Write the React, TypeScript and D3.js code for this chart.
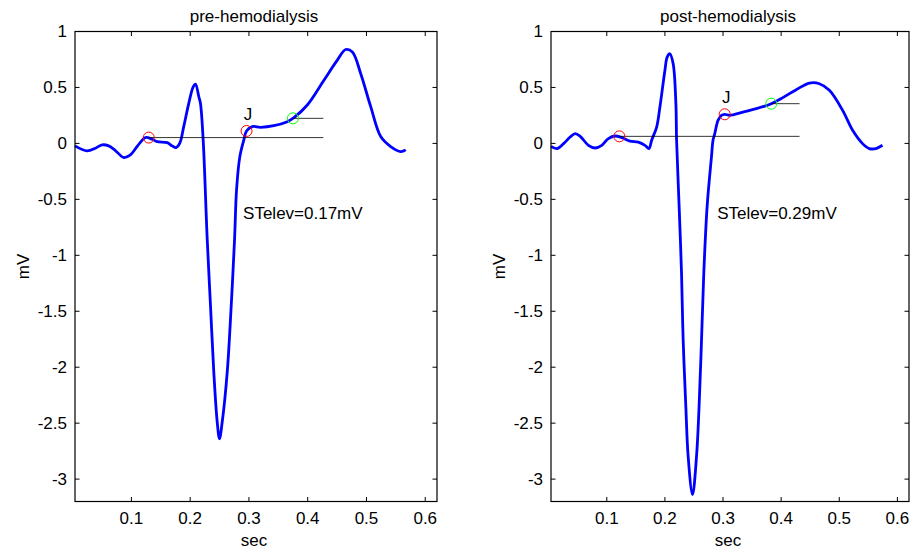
import React from "react";
import * as d3 from "d3";

// ---------- data ----------
const preT = [0.004, 0.0245, 0.0387, 0.05, 0.0613, 0.0727, 0.0869, 0.0983, 0.1097, 0.1238, 0.1353, 0.1438, 0.1608, 0.1693, 0.1761, 0.1823, 0.189, 0.1976, 0.2051, 0.209, 0.2147, 0.2175, 0.2221, 0.229, 0.2346, 0.2402, 0.246, 0.2499, 0.2545, 0.263, 0.2698, 0.2755, 0.2789, 0.2845, 0.2913, 0.2959, 0.3056, 0.3198, 0.3424, 0.3652, 0.3765, 0.3993, 0.4276, 0.4504, 0.4646, 0.476, 0.4901, 0.5072, 0.5242, 0.5412, 0.5583, 0.5668];
const preMV = [-0.022, -0.067, -0.043, -0.013, -0.022, -0.064, -0.126, -0.102, -0.028, 0.052, 0.037, 0.016, 0.007, -0.022, -0.037, 0.002, 0.15, 0.358, 0.506, 0.53, 0.417, 0.357, 0.031, -0.859, -1.453, -2.046, -2.49, -2.64, -2.49, -2.046, -1.453, -0.859, -0.414, -0.118, 0.031, 0.111, 0.15, 0.144, 0.158, 0.194, 0.23, 0.343, 0.565, 0.744, 0.839, 0.817, 0.625, 0.328, 0.061, -0.028, -0.073, -0.058];

const postT = [0.004, 0.0142, 0.0256, 0.037, 0.0456, 0.0542, 0.0684, 0.0799, 0.0914, 0.1027, 0.1142, 0.1257, 0.14, 0.1542, 0.1657, 0.1726, 0.1772, 0.1858, 0.1914, 0.2, 0.2039, 0.2086, 0.2142, 0.2189, 0.2201, 0.2245, 0.2286, 0.2314, 0.236, 0.24, 0.2475, 0.2544, 0.2588, 0.263, 0.2669, 0.2726, 0.2801, 0.2828, 0.2858, 0.2914, 0.2973, 0.3029, 0.3115, 0.3343, 0.3573, 0.383, 0.4029, 0.4259, 0.4487, 0.4658, 0.483, 0.5058, 0.523, 0.5401, 0.5516, 0.5631, 0.5744];
const postMV = [-0.026, -0.046, -0.002, 0.057, 0.087, 0.063, -0.017, -0.041, -0.017, 0.043, 0.066, 0.052, 0.021, 0.012, -0.017, -0.046, 0.028, 0.146, 0.325, 0.652, 0.771, 0.801, 0.712, 0.355, 0.028, -0.567, -1.161, -1.756, -2.351, -2.797, -3.139, -2.797, -2.351, -1.756, -1.161, -0.567, -0.121, 0.028, 0.087, 0.206, 0.251, 0.26, 0.251, 0.28, 0.31, 0.355, 0.409, 0.48, 0.539, 0.533, 0.474, 0.295, 0.117, -0.002, -0.046, -0.046, -0.017];

// markers: [isoelectric point, J point, ST point]
const preMarkT = [0.1295, 0.2959, 0.3748];
const preMarkMV = [0.052, 0.111, 0.224];
const postMarkT = [0.1216, 0.3029, 0.383];
const postMarkMV = [0.063, 0.26, 0.355];
const lineEndT = [0.4266, 0.4316];

const titles = ["pre-hemodialysis", "post-hemodialysis"];
const stLabels = ["STelev=0.17mV", "STelev=0.29mV"];
const xTicks = [0.1, 0.2, 0.3, 0.4, 0.5, 0.6];
const yTicks = [1, 0.5, 0, -0.5, -1, -1.5, -2, -2.5, -3];
const xDomain = [0.004, 0.62];
const yDomain = [-3.2, 1];

const FONT = "'Liberation Sans', Arial, Helvetica, sans-serif";
const FS = 17;

type PanelProps = {
  left: number;
  right: number;
  t: number[];
  mv: number[];
  markT: number[];
  markMV: number[];
  lineEnd: number;
  title: string;
  stLabel: string;
};

function Panel({ left, right, t, mv, markT, markMV, lineEnd, title, stLabel }: PanelProps) {
  const top = 31.5;
  const bottom = 501.5;
  const x = d3.scaleLinear().domain(xDomain).range([left, right]);
  const y = d3.scaleLinear().domain(yDomain).range([bottom, top]);
  const pts: [number, number][] = t.map((v, i) => [v, mv[i]]);
  const line = d3
    .line<[number, number]>()
    .x((d) => x(d[0]))
    .y((d) => y(d[1]))
    .curve(d3.curveCatmullRom.alpha(0.5));
  const tl = 4.5;
  const cx = (left + right) / 2;
  const cy = (top + bottom) / 2;
  return (
    <g>
      {/* waveform */}
      <path d={line(pts) || ""} fill="none" stroke="#0000ff" strokeWidth={2.8} strokeLinejoin="round" />
      {/* reference lines */}
      <line x1={x(markT[0])} x2={x(lineEnd)} y1={y(markMV[0])} y2={y(markMV[0])} stroke="#000" strokeWidth={0.8} />
      <line x1={x(markT[2])} x2={x(lineEnd)} y1={y(markMV[2])} y2={y(markMV[2])} stroke="#000" strokeWidth={0.8} />
      {/* markers */}
      <circle cx={x(markT[0])} cy={y(markMV[0])} r={5.5} fill="none" stroke="#ff0000" strokeWidth={1} />
      <circle cx={x(markT[1])} cy={y(markMV[1])} r={5.5} fill="none" stroke="#ff0000" strokeWidth={1} />
      <circle cx={x(markT[2])} cy={y(markMV[2])} r={5.5} fill="none" stroke="#00ff00" strokeWidth={1} />
      <text x={x(markT[1]) + 1.5} y={y(markMV[1]) - 11} fontFamily={FONT} fontSize={FS} textAnchor="middle" fill="#000">J</text>
      <text x={x(0.29)} y={y(-0.626)} dy="0.35em" fontFamily={FONT} fontSize={FS} fill="#000">{stLabel}</text>
      {/* box */}
      <rect x={left} y={top} width={right - left} height={bottom - top} fill="none" stroke="#000" strokeWidth={1.2} />
      {/* x ticks */}
      {xTicks.map((v) => (
        <g key={"x" + v}>
          <line x1={x(v)} x2={x(v)} y1={bottom} y2={bottom - tl} stroke="#000" strokeWidth={1} />
          <line x1={x(v)} x2={x(v)} y1={top} y2={top + tl} stroke="#000" strokeWidth={1} />
          <text x={x(v)} y={bottom + 22} textAnchor="middle" fontFamily={FONT} fontSize={FS} fill="#000">{String(v)}</text>
        </g>
      ))}
      {/* y ticks */}
      {yTicks.map((v) => (
        <g key={"y" + v}>
          <line x1={left} x2={left + tl} y1={y(v)} y2={y(v)} stroke="#000" strokeWidth={1} />
          <line x1={right} x2={right - tl} y1={y(v)} y2={y(v)} stroke="#000" strokeWidth={1} />
          <text x={left - 8} y={y(v)} dy="0.35em" textAnchor="end" fontFamily={FONT} fontSize={FS} fill="#000">{String(v)}</text>
        </g>
      ))}
      {/* labels */}
      <text x={cx - 2} y={22} textAnchor="middle" fontFamily={FONT} fontSize={FS} fill="#000">{title}</text>
      <text x={cx - 2} y={546} textAnchor="middle" fontFamily={FONT} fontSize={FS} fill="#000">sec</text>
      <text transform={`translate(${left - 46},${cy}) rotate(-90)`} textAnchor="middle" fontFamily={FONT} fontSize={FS} fill="#000">mV</text>
    </g>
  );
}

export default function App() {
  return (
    <svg width={912} height={550} style={{ position: "absolute", left: 0, top: 0, background: "#fff" }}>
      <rect x={0} y={0} width={912} height={550} fill="#fff" />
      <Panel left={75} right={437} t={preT} mv={preMV} markT={preMarkT} markMV={preMarkMV} lineEnd={lineEndT[0]} title={titles[0]} stLabel={stLabels[0]} />
      <Panel left={551} right={909} t={postT} mv={postMV} markT={postMarkT} markMV={postMarkMV} lineEnd={lineEndT[1]} title={titles[1]} stLabel={stLabels[1]} />
    </svg>
  );
}
